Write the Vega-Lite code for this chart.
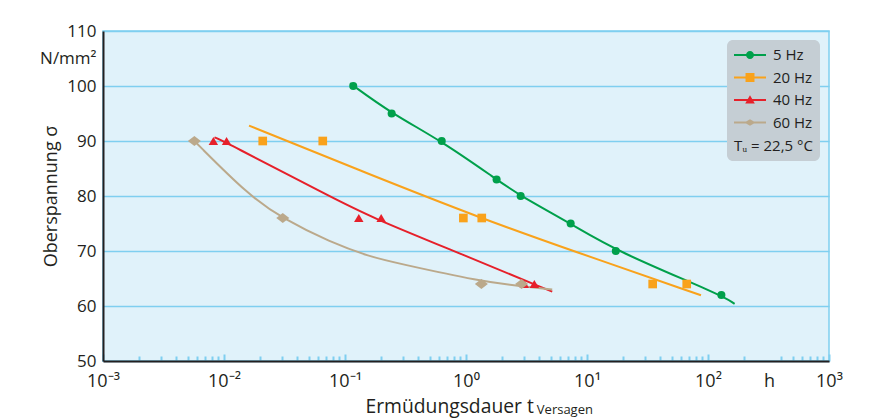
{
  "$schema": "https://vega.github.io/schema/vega-lite/v6.json",
  "width": 726,
  "height": 330,
  "autosize": "none",
  "padding": {"left": 103, "top": 31, "right": 55, "bottom": 58},
  "background": "white",
  "config": {
    "font": "Open Sans",
    "view": {"fill": "#e0f2fa", "stroke": "#7fcff0", "strokeWidth": 1.5}
  },
  "datasets": {
    "points": [
      {"series": "5 Hz", "t": 0.117, "sigma": 100},
      {"series": "5 Hz", "t": 0.243, "sigma": 95},
      {"series": "5 Hz", "t": 0.63, "sigma": 90},
      {"series": "5 Hz", "t": 1.79, "sigma": 83},
      {"series": "5 Hz", "t": 2.83, "sigma": 80},
      {"series": "5 Hz", "t": 7.33, "sigma": 75},
      {"series": "5 Hz", "t": 17.3, "sigma": 70},
      {"series": "5 Hz", "t": 129, "sigma": 62},
      {"series": "20 Hz", "t": 0.0209, "sigma": 90},
      {"series": "20 Hz", "t": 0.0655, "sigma": 90},
      {"series": "20 Hz", "t": 0.951, "sigma": 76},
      {"series": "20 Hz", "t": 1.35, "sigma": 76},
      {"series": "20 Hz", "t": 34.9, "sigma": 64},
      {"series": "20 Hz", "t": 66.7, "sigma": 64},
      {"series": "40 Hz", "t": 0.00817, "sigma": 90},
      {"series": "40 Hz", "t": 0.0105, "sigma": 90},
      {"series": "40 Hz", "t": 0.13, "sigma": 76},
      {"series": "40 Hz", "t": 0.199, "sigma": 76},
      {"series": "40 Hz", "t": 3.03, "sigma": 64},
      {"series": "40 Hz", "t": 3.67, "sigma": 64},
      {"series": "60 Hz", "t": 0.00569, "sigma": 90},
      {"series": "60 Hz", "t": 0.0306, "sigma": 76},
      {"series": "60 Hz", "t": 1.34, "sigma": 64},
      {"series": "60 Hz", "t": 2.88, "sigma": 64}
    ],
    "curves": [
      {"series": "5 Hz", "t": 0.110, "sigma": 100.5},
      {"series": "5 Hz", "t": 0.243, "sigma": 95},
      {"series": "5 Hz", "t": 0.63, "sigma": 90},
      {"series": "5 Hz", "t": 1.79, "sigma": 83},
      {"series": "5 Hz", "t": 2.83, "sigma": 80},
      {"series": "5 Hz", "t": 7.33, "sigma": 75},
      {"series": "5 Hz", "t": 17.3, "sigma": 70},
      {"series": "5 Hz", "t": 129, "sigma": 62},
      {"series": "5 Hz", "t": 166, "sigma": 60.4},
      {"series": "20 Hz", "t": 0.0161, "sigma": 92.8},
      {"series": "20 Hz", "t": 0.161, "sigma": 83.9},
      {"series": "20 Hz", "t": 1.35, "sigma": 75.9},
      {"series": "20 Hz", "t": 7.24, "sigma": 70.2},
      {"series": "20 Hz", "t": 87.5, "sigma": 61.95},
      {"series": "40 Hz", "t": 0.00834, "sigma": 90.67},
      {"series": "40 Hz", "t": 0.0105, "sigma": 89.7},
      {"series": "40 Hz", "t": 0.0752, "sigma": 79.9},
      {"series": "40 Hz", "t": 0.161, "sigma": 76.2},
      {"series": "40 Hz", "t": 0.951, "sigma": 69.3},
      {"series": "40 Hz", "t": 5.16, "sigma": 62.6},
      {"series": "60 Hz", "t": 0.00569, "sigma": 90},
      {"series": "60 Hz", "t": 0.0162, "sigma": 80},
      {"series": "60 Hz", "t": 0.0306, "sigma": 75.9},
      {"series": "60 Hz", "t": 0.0752, "sigma": 71.6},
      {"series": "60 Hz", "t": 0.161, "sigma": 68.96},
      {"series": "60 Hz", "t": 0.269, "sigma": 67.8},
      {"series": "60 Hz", "t": 1.34, "sigma": 64.45},
      {"series": "60 Hz", "t": 2.88, "sigma": 63.6},
      {"series": "60 Hz", "t": 5.16, "sigma": 63.0}
    ]
  },
  "layer": [
    {
      "data": {"name": "curves"},
      "mark": {"type": "line", "strokeWidth": 2, "interpolate": "basis"},
      "encoding": {
        "x": {
          "field": "t",
          "type": "quantitative",
          "scale": {"type": "log", "domain": [0.001, 1000], "nice": false},
          "axis": {
            "title": "Ermüdungsdauer t",
            "titleFontSize": 19.3,
            "titleFontWeight": "normal",
            "titleColor": "#231f20",
            "titleAlign": "left",
            "titleBaseline": "alphabetic",
            "titleX": 262,
            "titleY": 51,
            "values": [0.001, 0.002, 0.003, 0.004, 0.005, 0.006, 0.007, 0.008, 0.009,
                       0.01, 0.02, 0.03, 0.04, 0.05, 0.06, 0.07, 0.08, 0.09,
                       0.1, 0.2, 0.3, 0.4, 0.5, 0.6, 0.7, 0.8, 0.9,
                       1, 2, 3, 4, 5, 6, 7, 8, 9,
                       10, 20, 30, 40, 50, 60, 70, 80, 90,
                       100, 200, 319, 400, 500, 600, 700, 800, 900, 1000],
            "labelExpr": "datum.value == 319 ? 'h' : (abs(log(datum.value)/LN10 - round(log(datum.value)/LN10)) < 0.001 ? '10' + (round(log(datum.value)/LN10) == -3 ? '⁻³' : round(log(datum.value)/LN10) == -2 ? '⁻²' : round(log(datum.value)/LN10) == -1 ? '⁻¹' : round(log(datum.value)/LN10) == 0 ? '⁰' : round(log(datum.value)/LN10) == 1 ? '¹' : round(log(datum.value)/LN10) == 2 ? '²' : '³') : '')",
            "labelFontSize": 18,
            "labelColor": "#231f20",
            "labelPadding": 18,
            "labelFlush": false,
            "labelOverlap": false,
            "labelBound": false,
            "tickSize": {"condition": {"test": "datum.value == 319 || abs(log(datum.value)/LN10 - round(log(datum.value)/LN10)) < 0.001", "value": -7}, "value": -5},
            "tickOpacity": {"condition": {"test": "datum.value == 319", "value": 0}, "value": 1},
            "tickColor": "#7fcff0",
            "tickWidth": 2,
            "domainColor": "#231f20",
            "domainWidth": 2,
            "grid": false
          }
        },
        "y": {
          "field": "sigma",
          "type": "quantitative",
          "scale": {"domain": [50, 110], "nice": false, "zero": false},
          "axis": {
            "title": "Oberspannung σ",
            "titleFontSize": 18,
            "titleFontWeight": "normal",
            "titleColor": "#231f20",
            "titleBaseline": "bottom",
            "titleX": -43,
            "values": [50, 60, 70, 80, 90, 100, 105, 110],
            "labelExpr": "datum.value == 105 ? 'N/mm²' : datum.label",
            "labelFontSize": 17,
            "labelColor": "#231f20",
            "labelPadding": 7,
            "ticks": false,
            "tickSize": 0,
            "grid": true,
            "gridColor": "#7fcff0",
            "gridWidth": 1.5,
            "gridOpacity": {"condition": {"test": "datum.value == 105", "value": 0}, "value": 1},
            "domainColor": "#231f20",
            "domainWidth": 2
          }
        },
        "color": {
          "field": "series",
          "type": "nominal",
          "scale": {"domain": ["5 Hz", "20 Hz", "40 Hz", "60 Hz"], "range": ["#00a04b", "#f9a21b", "#e6202a", "#bba98b"]},
          "legend": {
            "orient": "top-right",
            "offset": 9,
            "title": "Tᵤ = 22,5 °C",
            "titleOrient": "bottom",
            "titleFontSize": 15,
            "titleFontWeight": "normal",
            "titleColor": "#231f20",
            "titlePadding": 8,
            "labelFontSize": 15,
            "labelColor": "#231f20",
            "labelOffset": 15,
            "labelExpr": "datum.label + '\u00a0'",
            "symbolSize": 256,
            "symbolOffset": 8,
            "rowPadding": 6.5,
            "padding": 7,
            "fillColor": "#c5ced4",
            "cornerRadius": 6,
            "encode": {
              "symbols": {
                "update": {
                  "shape": {"signal": "datum.value == '5 Hz' ? 'M-2,-0.13L2,-0.13L2,0.13L-2,0.13ZM-0.5,0A0.5,0.5,0,1,1,0.5,0A0.5,0.5,0,1,1,-0.5,0Z' : datum.value == '20 Hz' ? 'M-2,-0.13L2,-0.13L2,0.13L-2,0.13ZM-0.56,-0.56L0.56,-0.56L0.56,0.56L-0.56,0.56Z' : datum.value == '40 Hz' ? 'M-2,-0.13L2,-0.13L2,0.13L-2,0.13ZM-0.6,0.45L0,-0.6L0.6,0.45Z' : 'M-2,-0.13L2,-0.13L2,0.13L-2,0.13ZM-0.7,0L0,-0.42L0.7,0L0,0.42Z'"},
                  "size": {"value": 256},
                  "fill": {"scale": "color", "field": "value"},
                  "fillOpacity": {"value": 1},
                  "opacity": {"value": 1},
                  "strokeWidth": {"value": 0}
                }
              }
            }
          }
        }
      }
    },
    {
      "data": {"name": "points"},
      "transform": [{"filter": "datum.series == '5 Hz'"}],
      "mark": {"type": "point", "filled": true, "opacity": 1, "shape": "circle", "size": 65},
      "encoding": {
        "x": {"field": "t", "type": "quantitative"},
        "y": {"field": "sigma", "type": "quantitative"},
        "color": {"field": "series", "type": "nominal", "legend": null}
      }
    },
    {
      "data": {"name": "points"},
      "transform": [{"filter": "datum.series == '20 Hz'"}],
      "mark": {"type": "point", "filled": true, "opacity": 1, "shape": "square", "size": 75},
      "encoding": {
        "x": {"field": "t", "type": "quantitative"},
        "y": {"field": "sigma", "type": "quantitative"},
        "color": {"field": "series", "type": "nominal", "legend": null}
      }
    },
    {
      "data": {"name": "points"},
      "transform": [{"filter": "datum.series == '40 Hz'"}],
      "mark": {"type": "point", "filled": true, "opacity": 1, "shape": "triangle-up", "size": 90},
      "encoding": {
        "x": {"field": "t", "type": "quantitative"},
        "y": {"field": "sigma", "type": "quantitative"},
        "color": {"field": "series", "type": "nominal", "legend": null}
      }
    },
    {
      "data": {"name": "points"},
      "transform": [{"filter": "datum.series == '60 Hz'"}],
      "mark": {"type": "point", "filled": true, "opacity": 1, "shape": "M-1,0L0,-0.75L1,0L0,0.75Z", "size": 170},
      "encoding": {
        "x": {"field": "t", "type": "quantitative"},
        "y": {"field": "sigma", "type": "quantitative"},
        "color": {"field": "series", "type": "nominal", "legend": null}
      }
    },
    {
      "data": {"values": [{"label": "Versagen"}]},
      "mark": {"type": "text", "align": "left", "baseline": "alphabetic", "fontSize": 13, "fill": "#231f20"},
      "encoding": {
        "x": {"datum": 3.85, "type": "quantitative"},
        "y": {"datum": 40.3, "type": "quantitative"},
        "text": {"field": "label"}
      }
    }
  ]
}
